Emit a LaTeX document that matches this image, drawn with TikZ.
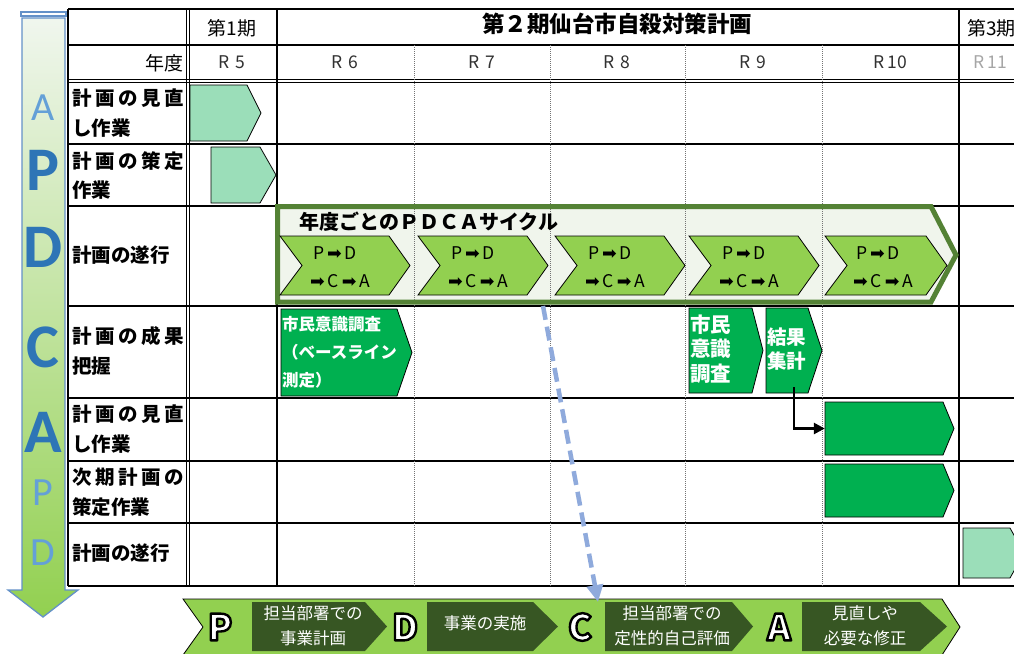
\documentclass[tikz,border=0pt]{standalone}
\usepackage{fontspec}
\setmainfont{Noto Sans CJK JP}
\newfontfamily\symf{DejaVu Sans}
\newfontfamily\calf{Carlito}
\usetikzlibrary{arrows.meta,fit,calc}
\definecolor{mint}{RGB}{155,222,185}
\definecolor{dkgreen}{RGB}{0,176,80}
\definecolor{ltgreen}{RGB}{146,208,80}
\definecolor{pdcagreen}{RGB}{84,130,53}
\definecolor{pale}{RGB}{240,245,236}
\definecolor{bandark}{RGB}{55,86,35}
\definecolor{arrowblue}{RGB}{143,170,220}
\definecolor{lblue}{RGB}{100,160,215}
\definecolor{dblue}{RGB}{46,117,182}
\definecolor{edgeblue}{RGB}{100,145,200}
\definecolor{yrgray}{RGB}{50,50,50}
\definecolor{yrlight}{RGB}{166,166,166}
\definecolor{arrowtop}{RGB}{240,246,238}
\definecolor{arrowmid}{RGB}{218,237,205}
\newcommand\pentshape[7]{%
  \draw[#1] (#3,#4) -- ({#5-#7},#4) -- (#5,{(#4+#6)/2}) -- ({#5-#7},#6) -- (#3,#6) -- cycle;
  \node[fit={(#3,#4) (#5,#6)}, inner sep=0pt] (#2) {};
}
\newcommand\chevshape[8]{%
  \draw[#1] (#3,#4) -- ({#5-#7},#4) -- (#5,{(#4+#6)/2}) -- ({#5-#7},#6) -- (#3,#6) -- ({#3+#8},{(#4+#6)/2}) -- cycle;
  \node[fit={(#3,#4) (#5,#6)}, inner sep=0pt] (#2) {};
}
% outlined (white fill, black stroke) letter via PDF text render mode 2
\newcommand\outlined[1]{\special{pdf:literal direct 0 0 0 RG 2.4 w 1 j 2 Tr}#1\special{pdf:literal direct 0 Tr}}
\newcommand\cyctext{\hspace{3pt}P\,{\symf ➡}\,D\\{\symf ➡}\,C\,{\symf ➡}\,A}
\tikzset{
  rowlbl/.style={anchor=west, inner sep=0pt, text width=112pt, align=left, font=\fontsize{19.5pt}{29.5pt}\selectfont\bfseries},
  hdr/.style={inner sep=0pt, font=\fontsize{19pt}{22pt}\selectfont},
  yr/.style={inner sep=0pt, text=yrgray, font=\fontsize{17.5pt}{20pt}\selectfont},
  mintbox/.style={fill=mint, draw=black, line width=0.8pt},
  dkbox/.style={fill=dkgreen, draw=black, line width=0.8pt},
  chevbox/.style={fill=ltgreen, draw=black, line width=0.8pt},
  banbox/.style={fill=bandark, draw=none},
  cyc/.style={anchor=west, inner sep=0pt, align=left, font=\fontsize{17.5pt}{28pt}\selectfont},
  wtxt/.style={text=white, inner sep=0pt, anchor=west, align=left},
  bantxt/.style={text=white, inner sep=0pt, align=center, font=\fontsize{16.5pt}{25pt}\selectfont},
  bigltr/.style={inner sep=0pt, text=white, font=\fontsize{36pt}{40pt}\selectfont\bfseries},
  apbig/.style={inner sep=0pt, text=dblue, font=\calf\bfseries\fontsize{62pt}{62pt}\selectfont},
  apsmall/.style={inner sep=0pt, text=lblue, font=\calf\fontsize{40pt}{40pt}\selectfont},
  thick line/.style={line width=1.6pt},
  thin double/.style={line width=1.1pt},
  dotline/.style={black!55, line width=0.9pt, dash pattern=on 1pt off 1pt},
}
\begin{document}
\begin{tikzpicture}[x=1pt,y=-1pt]
\useasboundingbox (0,0) rectangle (1014,653);
\clip (0,0) rectangle (1014,653);
\fill[white] (0,0) rectangle (1014,653);

% ---- left PDCA arrow ----
\draw[edgeblue, line width=1.2pt, fill=white] (21,12) rectangle (66,16);
\draw[edgeblue, line width=1.3pt, top color=arrowtop, middle color=arrowmid, bottom color=ltgreen]
  (22,18) -- (65,18) -- (65,590) -- (78,590) -- (43,617) -- (8,590) -- (22,590) -- cycle;
\node[apsmall] (la1) at (43,108) {A};
\node[apbig] (lp1) at (43,170) {P};
\node[apbig] (ld1) at (43,247) {D};
\node[apbig] (lc1) at (43,347) {C};
\node[apbig] (la2) at (43,432) {A};
\node[apsmall] (lp2) at (43,493) {P};
\node[apsmall] (ld2) at (43,553) {D};

% ---- PDCA cycle band fill ----
\fill[pale] (277.5,206.5) -- (931,206.5) -- (956,255) -- (931,302) -- (277.5,302) -- cycle;

% ---- grid ----
\foreach \yy in {9,45,144,206,306,398,461,523,586}
  \draw[thick line] (68,\yy) -- (1014,\yy);
\draw[thin double] (68,79.5) -- (1014,79.5);
\draw[thin double] (68,82.5) -- (1014,82.5);
\draw[thick line] (68,9) -- (68,586);
\draw[thin double] (186.5,9) -- (186.5,586);
\draw[thin double] (189.5,9) -- (189.5,586);
\draw[line width=1.4pt] (277,9) -- (277,586);
\draw[line width=1.4pt] (959,9) -- (959,586);
\foreach \xx in {414,550,685,822}
  \draw[dotline] (\xx,45) -- (\xx,586);

% ---- header texts ----
\node[hdr] (h1) at (232,28) {第1期};
\node[inner sep=0pt, font=\fontsize{22.5pt}{24pt}\selectfont\bfseries] (h2) at (617,24) {第２期仙台市自殺対策計画};
\node[hdr, anchor=west] (h3) at (967,28) {第3期};
\node[hdr, anchor=east] (nendo) at (184,63) {年度};
\node[yr] (r5) at (232,62) {R\hspace{6pt}5};
\node[yr] (r6) at (345,62) {R\hspace{6pt}6};
\node[yr] (r7) at (482,62) {R\hspace{6pt}7};
\node[yr] (r8) at (617,62) {R\hspace{6pt}8};
\node[yr] (r9) at (753,62) {R\hspace{6pt}9};
\node[yr] (r10) at (890,62) {R\,10};
\node[yr, text=yrlight] (r11) at (990,62) {R\,11};

% ---- row labels ----
\node[rowlbl] (l1) at (72,113) {\makebox[112pt][s]{計\hfill 画\hfill の\hfill 見\hfill 直}\\し作業};
\node[rowlbl] (l2) at (72,175.5) {\makebox[112pt][s]{計\hfill 画\hfill の\hfill 策\hfill 定}\\作業};
\node[rowlbl] (l3) at (72,255) {計画の遂行};
\node[rowlbl] (l4) at (72,351) {\makebox[112pt][s]{計\hfill 画\hfill の\hfill 成\hfill 果}\\把握};
\node[rowlbl] (l5) at (72,429) {\makebox[112pt][s]{計\hfill 画\hfill の\hfill 見\hfill 直}\\し作業};
\node[rowlbl] (l6) at (72,492) {\makebox[112pt][s]{次\hfill 期\hfill 計\hfill 画\hfill の}\\策定作業};
\node[rowlbl] (l7) at (72,553) {計画の遂行};

% ---- plan shapes ----
\pentshape{mintbox}{m1}{190}{85}{261}{141}{14}
\pentshape{mintbox}{m2}{211}{147}{276}{203}{16}
\pentshape{mintbox}{m3}{963}{528}{1024}{578}{14}

% ---- PDCA cycle band outline ----
\draw[pdcagreen, line width=5pt, line join=miter]
  (277.5,206.5) -- (931,206.5) -- (956,255) -- (931,302) -- (277.5,302) -- cycle;
\node[fit={(277,206) (958,304)}, inner sep=0pt] (pdca) {};
\node[anchor=west, inner sep=0pt, font=\fontsize{20pt}{22pt}\selectfont\bfseries] (ctitle) at (299,222) {年度ごとのＰＤＣＡサイクル};

\chevshape{chevbox}{c1}{280}{236}{410}{295}{21}{22}
\chevshape{chevbox}{c2}{418}{236}{548}{295}{21}{22}
\chevshape{chevbox}{c3}{555}{236}{685}{295}{21}{22}
\chevshape{chevbox}{c4}{689}{236}{819}{295}{21}{22}
\chevshape{chevbox}{c5}{825}{236}{947}{295}{21}{22}
\node[cyc] (t1) at (310,267) {\cyctext};
\node[cyc] (t2) at (448,267) {\cyctext};
\node[cyc] (t3) at (585,267) {\cyctext};
\node[cyc] (t4) at (719,267) {\cyctext};
\node[cyc] (t5) at (853,267) {\cyctext};

% ---- results row ----
\pentshape{dkbox}{s1}{281}{309}{412}{396}{15}
\node[wtxt, font=\fontsize{16.5pt}{28pt}\selectfont\bfseries] (s1t) at (282,352) {市民意識調査\\（ベースライン\\測定）};
\pentshape{dkbox}{s2}{689}{308}{763}{393}{11}
\node[wtxt, font=\fontsize{20.5pt}{24.5pt}\selectfont\bfseries] (s2t) at (690,349) {市民\\意識\\調査};
\pentshape{dkbox}{kekka}{766}{308}{822}{393}{14}
\node[wtxt, font=\fontsize{19.5pt}{24pt}\selectfont\bfseries] (kt) at (767,349) {結果\\集計};

% ---- review / next plan ----
\pentshape{dkbox}{mina2}{825}{402}{954}{455}{11}
\pentshape{dkbox}{next}{825}{464}{954}{517}{11}

\draw[line width=2.6pt, -{Triangle[length=11pt,width=11pt]}]
  ([yshift=6pt]kekka.south) |- (mina2.west);

% ---- bottom banner ----
\chevshape{fill=ltgreen, draw=black, line width=0.8pt}{banner}{183}{599}{960}{655}{18}{20}
\pentshape{banbox}{b1}{252}{602}{387}{651}{22}
\pentshape{banbox}{b2}{427}{602}{558}{651}{25}
\pentshape{banbox}{b3}{605}{602}{753}{651}{21}
\pentshape{banbox}{b4}{802}{602}{947}{651}{27}
\node[bantxt] (b1t) at (313,625.5) {担当部署での\\事業計画};
\node[bantxt] (b2t) at (485,623) {事業の実施};
\node[bantxt] (b3t) at (672,625.5) {担当部署での\\定性的自己評価};
\node[bantxt] (b4t) at (865,625.5) {見直しや\\必要な修正};
\node[bigltr] (bp) at (220,627) {\outlined{P}};
\node[bigltr] (bd) at (405,627) {\outlined{D}};
\node[bigltr] (bc) at (580,627) {\outlined{C}};
\node[bigltr] (ba) at (779,627) {\outlined{A}};

% ---- dashed link from cycle to banner ----
\coordinate (dstart) at (543,306);
\coordinate (dend) at (598,602);
\draw[arrowblue, line width=4.5pt, dash pattern=on 14pt off 7pt,
  -{Triangle[length=17pt,width=16pt]}] (dstart) -- (dend);
\end{tikzpicture}
\end{document}
